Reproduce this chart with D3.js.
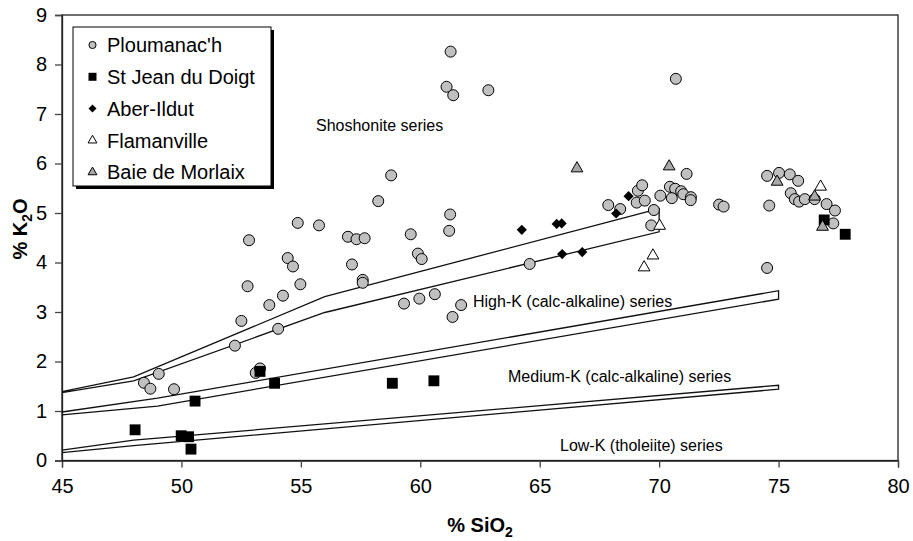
<!DOCTYPE html>
<html>
<head>
<meta charset="utf-8">
<script src="https://cdn.jsdelivr.net/npm/d3@7"></script>
<style>
  html, body { margin: 0; padding: 0; background: #fff; }
  svg { display: block; font-family: "Liberation Sans", Arial, sans-serif; }
</style>
</head>
<body>
<svg id="chart" width="913" height="541"></svg>
<script>
// ---- data (SiO2 %, K2O %) ----
const ploumanach = [
  [61.27,8.26],[61.10,7.55],[61.38,7.38],[62.85,7.48],[70.70,7.71],
  [58.78,5.76],[58.24,5.24],[54.87,4.80],[55.76,4.75],[56.97,4.52],[57.33,4.47],[57.67,4.49],
  [59.60,4.57],[61.25,4.97],[61.21,4.64],[54.45,4.09],[54.67,3.92],[57.14,3.96],[59.90,4.18],
  [60.06,4.07],[54.98,3.56],[57.59,3.65],[57.59,3.59],[54.25,3.33],[54.05,2.66],[59.32,3.17],
  [59.96,3.27],[60.61,3.36],[61.71,3.14],[61.35,2.90],
  [52.83,4.45],[52.77,3.52],[53.68,3.14],[52.51,2.82],[52.24,2.32],[49.05,1.75],[48.43,1.57],
  [48.70,1.45],[49.69,1.44],[53.11,1.77],[53.29,1.86],
  [64.58,3.97],[67.87,5.16],[68.37,5.08],[69.11,5.45],[69.29,5.56],[69.06,5.21],[69.40,5.25],
  [69.78,5.06],[69.67,4.75],[70.05,5.35],[70.45,5.53],[70.67,5.49],[70.92,5.44],[71.01,5.38],
  [70.53,5.30],[71.15,5.79],[71.33,5.32],[71.32,5.26],[72.51,5.17],[72.70,5.13],
  [74.52,5.75],[75.02,5.81],[75.47,5.78],[75.82,5.65],[74.61,5.15],[74.52,3.89],[75.51,5.40],
  [75.68,5.28],[75.86,5.23],[76.10,5.28],[76.51,5.28],[77.01,5.18],[77.36,5.05],[77.29,4.79]
];
const stJeanDuDoigt = [
  [53.29,1.80],[50.57,1.20],[53.90,1.56],[48.06,0.62],[49.99,0.50],[50.30,0.48],[50.40,0.23],
  [58.83,1.56],[60.57,1.61],[76.91,4.86],[77.79,4.57]
];
const aberIldut = [
  [64.25,4.66],[65.71,4.78],[65.92,4.79],[68.72,5.34],[68.20,4.99],[65.94,4.17],[66.78,4.21]
];
const flamanville = [
  [70.02,4.74],[69.74,4.14],[69.37,3.90],[76.76,5.53]
];
const baieDeMorlaix = [
  [66.56,5.90],[70.42,5.94],[74.94,5.63],[76.51,5.33],[76.84,4.72]
];

// boundary bands: upper edge left->right, lower edge left->right
const shoshoniteUpper = [[45,1.39],[48,1.69],[56,3.31],[70,5.09]];
const shoshoniteLower = [[45,1.37],[48,1.61],[56,2.99],[70,4.62]];
const highKUpper = [[45,0.98],[49,1.26],[75,3.43]];
const highKLower = [[45,0.92],[49,1.10],[75,3.26]];
const lowKUpper = [[45,0.21],[48,0.41],[75,1.52]];
const lowKLower = [[45,0.16],[48,0.30],[75,1.44]];

const xTicks = [45,50,55,60,65,70,75,80];
const yTicks = [0,1,2,3,4,5,6,7,8,9];

const seriesNames = ["Ploumanac'h","St Jean du Doigt","Aber-Ildut","Flamanville","Baie de Morlaix"];

// ---- drawing ----
const svg = d3.select("#chart");
const x = d3.scaleLinear().domain([45,80]).range([62,898]);
const y = d3.scaleLinear().domain([0,9]).range([460.5,15]);

// plot frame
svg.append("rect").attr("x",x(45)).attr("y",y(9))
  .attr("width",x(80)-x(45)).attr("height",y(0)-y(9))
  .attr("fill","none").attr("stroke","#222").attr("stroke-width",1.3);

// axes
const xAxis = svg.append("g").attr("transform",`translate(0,${y(0)})`)
  .call(d3.axisBottom(x).tickValues(xTicks).tickSize(7).tickPadding(11).tickFormat(d3.format("d")));
const yAxis = svg.append("g").attr("transform",`translate(${x(45)},0)`)
  .call(d3.axisLeft(y).tickValues(yTicks).tickSize(7).tickPadding(8).tickFormat(d3.format("d")));
[xAxis,yAxis].forEach(g=>{
  g.select(".domain").attr("stroke","#222").attr("stroke-width",1.3);
  g.selectAll(".tick line").attr("stroke","#444").attr("stroke-width",1.3);
  g.selectAll(".tick text").attr("font-size",20).attr("fill","#000")
    .attr("font-family","'Liberation Sans', Arial, sans-serif");
});

// boundary bands
function band(up, lo) {
  const pts = up.concat(lo.slice().reverse());
  return d3.line().x(d=>x(d[0])).y(d=>y(d[1]))(pts);
}
[[shoshoniteUpper,shoshoniteLower],[highKUpper,highKLower],[lowKUpper,lowKLower]].forEach(([u,l])=>{
  svg.append("path").attr("d",band(u,l)).attr("fill","none")
    .attr("stroke","#111").attr("stroke-width",1.3).attr("stroke-linejoin","miter");
});

// series annotations
const ann = svg.append("g").attr("font-size",16).attr("fill","#000");
ann.append("text").attr("x",316).attr("y",131).text("Shoshonite series");
ann.append("text").attr("x",473).attr("y",307).text("High-K (calc-alkaline) series");
ann.append("text").attr("x",508).attr("y",382).text("Medium-K (calc-alkaline) series");
ann.append("text").attr("x",560).attr("y",451).text("Low-K (tholeiite) series");

// markers
const sym = {
  circle: d3.symbol().type(d3.symbolCircle).size(95),
  square: d3.symbol().type(d3.symbolSquare).size(118),
  diamond: d3.symbol().type(d3.symbolSquare).size(52),
  triangle: d3.symbol().type(d3.symbolTriangle).size(60)
};
const symSmall = {
  circle: d3.symbol().type(d3.symbolCircle).size(40),
  square: d3.symbol().type(d3.symbolSquare).size(64),
  diamond: d3.symbol().type(d3.symbolSquare).size(32),
  triangle: d3.symbol().type(d3.symbolTriangle).size(34)
};
const styles = [
  {data: ploumanach, shape:"circle", fill:"#c0c0c0", stroke:"#000", sw:1},
  {data: stJeanDuDoigt, shape:"square", fill:"#000", stroke:"#000", sw:0},
  {data: aberIldut, shape:"diamond", fill:"#000", stroke:"#000", sw:0},
  {data: flamanville, shape:"triangle", fill:"#fff", stroke:"#000", sw:1},
  {data: baieDeMorlaix, shape:"triangle", fill:"#a8a8a8", stroke:"#000", sw:1}
];
styles.forEach(s=>{
  svg.append("g").selectAll("path").data(s.data).join("path")
    .attr("d", sym[s.shape])
    .attr("transform", d=>`translate(${x(d[0])},${y(d[1])})` + (s.shape==="diamond"?" rotate(45)":""))
    .attr("fill", s.fill).attr("stroke", s.stroke).attr("stroke-width", s.sw);
});

// legend
const lg = svg.append("g");
lg.append("rect").attr("x",76).attr("y",30).attr("width",198).attr("height",159).attr("fill","#000");
lg.append("rect").attr("x",73).attr("y",27).attr("width",198).attr("height",159)
  .attr("fill","#fff").attr("stroke","#000").attr("stroke-width",1);
seriesNames.forEach((n,i)=>{
  const cy = 45 + i*31.8;
  const s = styles[i];
  lg.append("path").attr("d", symSmall[s.shape])
    .attr("transform", `translate(92.5,${cy})` + (s.shape==="diamond"?" rotate(45)":""))
    .attr("fill", s.fill).attr("stroke", s.stroke).attr("stroke-width", s.sw);
  lg.append("text").attr("x",107).attr("y",cy).attr("dy","0.36em")
    .attr("font-size",20).text(n);
});

// axis titles
const xt = svg.append("text").attr("x",480).attr("y",532).attr("text-anchor","middle")
  .attr("font-size",20).attr("font-weight","bold");
xt.append("tspan").text("% SiO");
xt.append("tspan").attr("font-size",14).attr("dy",5).text("2");

const yt = svg.append("text").attr("transform","translate(27,229) rotate(-90)")
  .attr("text-anchor","middle").attr("font-size",20).attr("font-weight","bold");
yt.append("tspan").text("% K");
yt.append("tspan").attr("font-size",14).attr("dy",5).text("2");
yt.append("tspan").attr("dy",-5).text("O");
</script>
</body>
</html>
